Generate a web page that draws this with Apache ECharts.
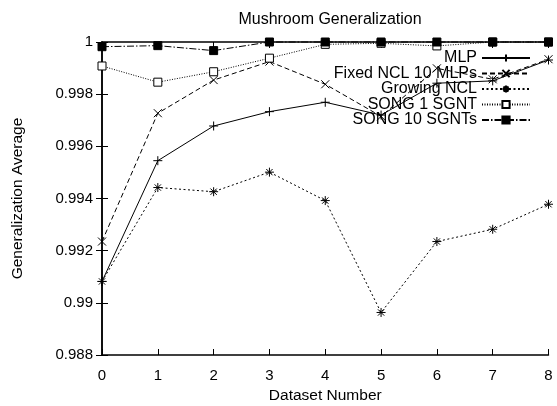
<!DOCTYPE html>
<html>
<head>
<meta charset="utf-8">
<script src="https://cdn.jsdelivr.net/npm/echarts@6/dist/echarts.min.js"></script>
<style>
  html, body { margin: 0; padding: 0; background: #fff; }
  #chart { width: 557px; height: 406px; }
</style>
</head>
<body>
<div id="chart"></div>
<script>
// dataset number on the x axis
const datasets = [0, 1, 2, 3, 4, 5, 6, 7, 8]

// generalization average per method
const mlp = [0.99082, 0.99545, 0.99678, 0.99733, 0.99769, 0.99720, 0.99842, 0.99851, 0.99931]
const fixedNcl = [0.99235, 0.99727, 0.99854, 0.99925, 0.99838, 0.99715, 0.99899, 0.99857, 0.99934]
const growingNcl = [0.99082, 0.99442, 0.99426, 0.99501, 0.99392, 0.98963, 0.99235, 0.99282, 0.99378]
const song1 = [0.99908, 0.99846, 0.99886, 0.99938, 0.99991, 0.99995, 0.99985, 1.0, 1.0]
const song10 = [0.99982, 0.99986, 0.99967, 1.0, 1.0, 1.0, 1.0, 1.0, 1.0]

const seriesNames = ['MLP', 'Fixed NCL 10 MLPs', 'Growing NCL', 'SONG 1 SGNT', 'SONG 10 SGNTs']

const FONT = "'Liberation Sans', Arial, sans-serif"

const plus = 'path://M5,0L5,10M0,5L10,5'
const cross = 'path://M0,0L10,10M10,0L0,10'
const star = 'path://M5,0L5,10M0,5L10,5M1.5,1.5L8.5,8.5M8.5,1.5L1.5,8.5'

const pairs = vals => datasets.map((x, i) => [x, vals[i]])

const makeSeries = (name, vals, symbol, size, dash, fill) => ({
  name: name,
  type: 'line',
  data: pairs(vals),
  symbol: symbol,
  symbolSize: size,
  showAllSymbol: true,
  clip: false,
  animation: false,
  lineStyle: { color: '#000', width: 1, type: dash },
  itemStyle: { color: fill, borderColor: '#000', borderWidth: 1 }
})

// one legend per entry, so the sample lines line up on the right like gnuplot
const legendTop = 50
const legendStep = 15.5
const legends = seriesNames.map((name, i) => ({
  orient: 'vertical',
  right: 26,
  top: legendTop + i * legendStep,
  align: 'right',
  itemWidth: 48,
  itemHeight: 9,
  padding: 0,
  selectedMode: false,
  textStyle: { fontFamily: FONT, fontSize: 16, color: '#000', lineHeight: 16 },
  data: [name]
}))

const chart = echarts.init(document.getElementById('chart'))

const tickFmt = v => String(+v.toFixed(3))

const option = {
  backgroundColor: '#fff',
  textStyle: { fontFamily: FONT },
  title: {
    text: 'Mushroom Generalization',
    left: 325,
    top: 7,
    textAlign: 'center',
    textStyle: { fontFamily: FONT, fontSize: 16, fontWeight: 'normal', color: '#000' }
  },
  grid: { left: 102, right: 8.5, top: 42, bottom: 51, outerBoundsMode: 'none' },
  legend: legends,
  xAxis: [
    {
      type: 'value',
      min: 0,
      max: 8,
      interval: 1,
      name: 'Dataset Number',
      nameLocation: 'middle',
      nameGap: 33,
      nameTextStyle: { fontFamily: FONT, fontSize: 15.5, color: '#000' },
      axisLine: { lineStyle: { color: '#000', width: 1.5 } },
      axisTick: { inside: true, length: 6, lineStyle: { color: '#000' } },
      axisLabel: { fontFamily: FONT, fontSize: 15, color: '#000', margin: 13 },
      splitLine: { show: false }
    },
    {
      type: 'value',
      position: 'top',
      min: 0,
      max: 8,
      interval: 1,
      axisLine: { lineStyle: { color: '#000', width: 1.5 } },
      axisTick: { inside: true, length: 6, lineStyle: { color: '#000' } },
      axisLabel: { show: false },
      splitLine: { show: false }
    }
  ],
  yAxis: [
    {
      type: 'value',
      min: 0.988,
      max: 1,
      interval: 0.002,
      name: 'Generalization Average',
      nameLocation: 'middle',
      nameGap: 76,
      nameTextStyle: { fontFamily: FONT, fontSize: 15.5, color: '#000' },
      axisLine: { show: true, lineStyle: { color: '#000', width: 1.5 } },
      axisTick: { show: true, inside: true, length: 6, lineStyle: { color: '#000' } },
      axisLabel: { fontFamily: FONT, fontSize: 15, color: '#000', margin: 9, formatter: tickFmt },
      splitLine: { show: false }
    },
    {
      type: 'value',
      position: 'right',
      min: 0.988,
      max: 1,
      interval: 0.002,
      axisLine: { show: true, lineStyle: { color: '#000', width: 1.5 } },
      axisTick: { show: true, inside: true, length: 6, lineStyle: { color: '#000' } },
      axisLabel: { show: false },
      splitLine: { show: false }
    }
  ],
  series: [
    makeSeries(seriesNames[0], mlp, plus, 9, 'solid', '#000'),
    makeSeries(seriesNames[1], fixedNcl, cross, 8, [5, 3], '#000'),
    makeSeries(seriesNames[2], growingNcl, star, 9, [2, 2.5], '#000'),
    makeSeries(seriesNames[3], song1, 'rect', 8, [1, 1.5], '#fff'),
    makeSeries(seriesNames[4], song10, 'rect', 8, [7, 2, 1.5, 2], '#000')
  ]
}

chart.setOption(option)
</script>
</body>
</html>
